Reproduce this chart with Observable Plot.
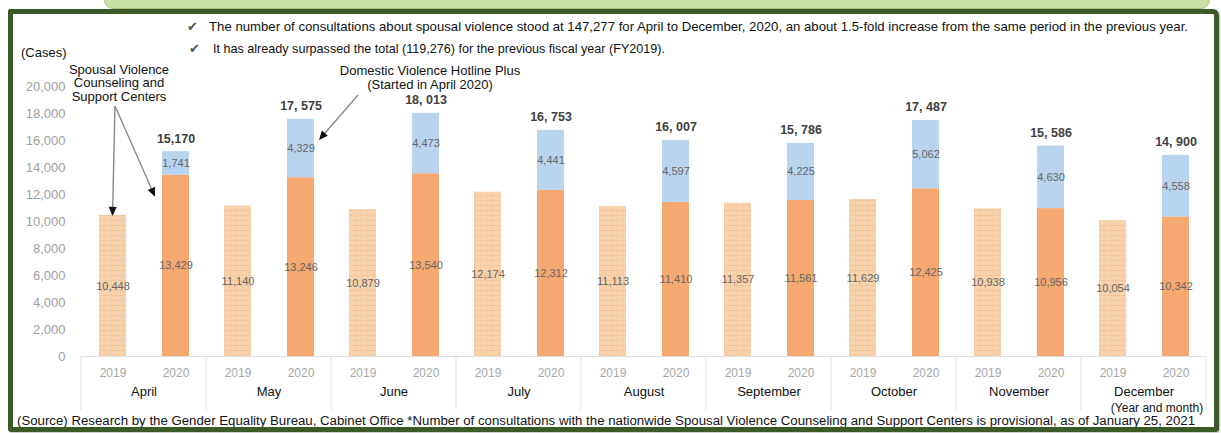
<!DOCTYPE html>
<html><head><meta charset="utf-8">
<script src="https://cdn.jsdelivr.net/npm/d3@7"></script>
<script src="https://cdn.jsdelivr.net/npm/@observablehq/plot@0.6"></script>
<style>
body{margin:0;background:#fff;font-family:"Liberation Sans",Arial,sans-serif;}
#wrap{position:relative;width:1221px;height:433px;overflow:hidden;background:#fff;}
#chart svg{position:absolute;left:0;top:0;}
#band{position:absolute;left:104px;top:-8px;width:1104px;height:15px;background:#c9dfa5;border:1px solid #a9c67f;border-radius:0 0 9px 9px;}
#frame{position:absolute;left:8px;top:9px;width:1201px;height:413px;border:5px solid #3b5a27;border-radius:2px 6px 3px 3px;pointer-events:none;box-shadow:1px 1px 2px rgba(0,0,0,0.25);}
</style></head><body>
<div id="wrap"><div id="chart"></div><div id="band"></div><div id="frame"></div></div>
<script>
const months = ["April","May","June","July","August","September","October","November","December"];
const years = ["2019","2020"];
const centers2019 = [10448,11140,10879,12174,11113,11357,11629,10938,10054];
const centers2020 = [13429,13246,13540,12312,11410,11561,12425,10956,10342];
const hotline2020 = [1741,4329,4473,4441,4597,4225,5062,4630,4558];
const totalLabels = ["15,170","17, 575","18, 013","16, 753","16, 007","15, 786","17, 487","15, 586","14, 900"];
const yTicks = [0,2000,4000,6000,8000,10000,12000,14000,16000,18000,20000];

const headerLines = [
  "The number of consultations about spousal violence stood at 147,277 for April to December, 2020, an about 1.5-fold increase from the same period in the previous year.",
  "It has already surpassed the total (119,276) for the previous fiscal year (FY2019)."
];
const unitLabel = "(Cases)";
const centerNote = ["Spousal Violence","Counseling and","Support Centers"];
const hotlineNote = ["Domestic Violence Hotline Plus","(Started in April 2020)"];
const axisNote = "(Year and month)";
const sourceNote = "(Source) Research by the Gender Equality Bureau, Cabinet Office *Number of consultations with the nationwide Spousal Violence Counseling and Support Centers is provisional, as of January 25, 2021";

const rows2019 = months.map((m,i)=>({month:m, year:"2019", lo:0, hi:centers2019[i]}));
const rows2020 = months.map((m,i)=>({month:m, year:"2020", lo:0, hi:centers2020[i]}));
const rowsHot = months.map((m,i)=>({month:m, year:"2020", lo:centers2020[i], hi:centers2020[i]+hotline2020[i], total:totalLabels[i]}));

const fmt = d3.format(",");
const mid = d => (d.lo + d.hi) / 2;
const seg = d => fmt(d.hi - d.lo);

const chart = Plot.plot({
  width:1221, height:433,
  marginLeft:78, marginRight:12, marginTop:86, marginBottom:77,
  style:{fontFamily:"Liberation Sans, Arial, sans-serif", background:"transparent", overflow:"visible"},
  fx:{domain:months, padding:0, label:null},
  x:{domain:years, paddingInner:0.578, paddingOuter:0.27, label:null},
  y:{domain:[0,20000], label:null},
  marks:[
    Plot.ruleY([0], {stroke:"#dedede"}),
    Plot.barY(rows2019, {fx:"month", x:"year", y1:"lo", y2:"hi", fill:"url(#p2019)"}),
    Plot.barY(rows2020, {fx:"month", x:"year", y1:"lo", y2:"hi", fill:"#f5a86f"}),
    Plot.barY(rowsHot, {fx:"month", x:"year", y1:"lo", y2:"hi", fill:"#b9d4ef"}),
    Plot.text(rows2019, {fx:"month", x:"year", y:mid, text:seg, fill:"#666", fontSize:11}),
    Plot.text(rows2020, {fx:"month", x:"year", y:mid, text:seg, fill:"#666", fontSize:11}),
    Plot.text(rowsHot, {fx:"month", x:"year", y:mid, text:seg, fill:"#666", fontSize:11}),
    Plot.text(rowsHot, {fx:"month", x:"year", y:"hi", text:"total", dy:-13, fill:"#404040", fontSize:12.5, fontWeight:"bold"}),
    Plot.axisY(yTicks, {tickSize:0, tickPadding:16, tickFormat:fmt, fill:"#a0a0a0", fontSize:13, label:null}),
    Plot.axisX({tickSize:0, tickPadding:12, fill:"#a8a8a8", fontSize:12, label:null}),
    Plot.axisFx({anchor:"bottom", tickSize:0, tickPadding:30, fill:"#111", fontSize:13, label:null})
  ]
});
document.getElementById("chart").appendChild(chart);

const svg = d3.select(chart);
const defs = svg.insert("defs", ":first-child");
const pat = defs.append("pattern").attr("id","p2019").attr("patternUnits","userSpaceOnUse").attr("width",6).attr("height",5);
pat.append("rect").attr("width",6).attr("height",5).attr("fill","#f8d3ad");
pat.append("path").attr("d","M0,0.5H6").attr("stroke","#f0c296").attr("stroke-width",0.8);
pat.append("path").attr("d","M0.5,0V5").attr("stroke","#f3c9a1").attr("stroke-width",0.8);

const fxS = chart.scale("fx"), xS = chart.scale("x"), yS = chart.scale("y");
const barLeft = (m, yr) => fxS.apply(m) + xS.apply(yr) - xS.range[0];
const barCx = (m, yr) => barLeft(m, yr) + xS.bandwidth / 2;
const y0 = yS.apply(0);

const g = svg.append("g").attr("font-family","Liberation Sans, Arial, sans-serif").attr("text-anchor","start");

// table separators below the axis
const edges = months.map(m => fxS.apply(m)).concat([fxS.apply(months[months.length-1]) + fxS.bandwidth]);
g.selectAll("line.sep").data(edges).join("line")
  .attr("x1",d=>d).attr("x2",d=>d).attr("y1",y0).attr("y2",y0+54)
  .attr("stroke","#e3e3e3");

// header
const checks = [[187,31],[189,53]];
const starts = [[209,31,979],[213,53,452]];
headerLines.forEach((t,i)=>{
  g.append("text").attr("x",checks[i][0]).attr("y",checks[i][1]).attr("font-size",13).attr("fill","#555").attr("font-family","DejaVu Sans").attr("text-anchor","start").text("\u2714");
  g.append("text").attr("x",starts[i][0]).attr("y",starts[i][1]).attr("font-size",13).attr("fill","#111").attr("text-anchor","start")
    .attr("textLength",starts[i][2]).attr("lengthAdjust","spacingAndGlyphs").text(t);
});

g.append("text").attr("x",21).attr("y",57).attr("font-size",13).attr("fill","#111").attr("text-anchor","start").text(unitLabel);
centerNote.forEach((t,i)=>g.append("text").attr("x",119).attr("y",73.5+i*13.7).attr("text-anchor","middle").attr("font-size",13).attr("fill","#111").text(t));
hotlineNote.forEach((t,i)=>g.append("text").attr("x",430).attr("y",74.5+i*14.5).attr("text-anchor","middle").attr("font-size",13).attr("fill","#111").text(t));

function arrow(x1,y1,x2,y2){
  const dx=x2-x1, dy=y2-y1, L=Math.hypot(dx,dy), ux=dx/L, uy=dy/L;
  const hl=9, hw=4;
  const bx=x2-ux*hl, by=y2-uy*hl;
  g.append("line").attr("x1",x1).attr("y1",y1).attr("x2",bx).attr("y2",by).attr("stroke","#8a8a8a").attr("stroke-width",1.4);
  g.append("path").attr("d",`M${x2},${y2}L${bx-uy*hw},${by+ux*hw}L${bx+uy*hw},${by-ux*hw}Z`).attr("fill","#111");
}
arrow(115,106, barCx("April","2019"), yS.apply(centers2019[0])+1);
arrow(115,106, barLeft("April","2020")-7, yS.apply(11800));
arrow(358,95, barLeft("May","2020")+xS.bandwidth+5, yS.apply(16000));

g.append("text").attr("x",1157).attr("y",411.5).attr("text-anchor","middle").attr("font-size",12).attr("fill","#111").text(axisNote);
g.append("text").attr("x",17).attr("y",425).attr("font-size",12).attr("fill","#111").attr("text-anchor","start")
  .attr("textLength",1178).attr("lengthAdjust","spacingAndGlyphs").text(sourceNote);
</script>
</body></html>
